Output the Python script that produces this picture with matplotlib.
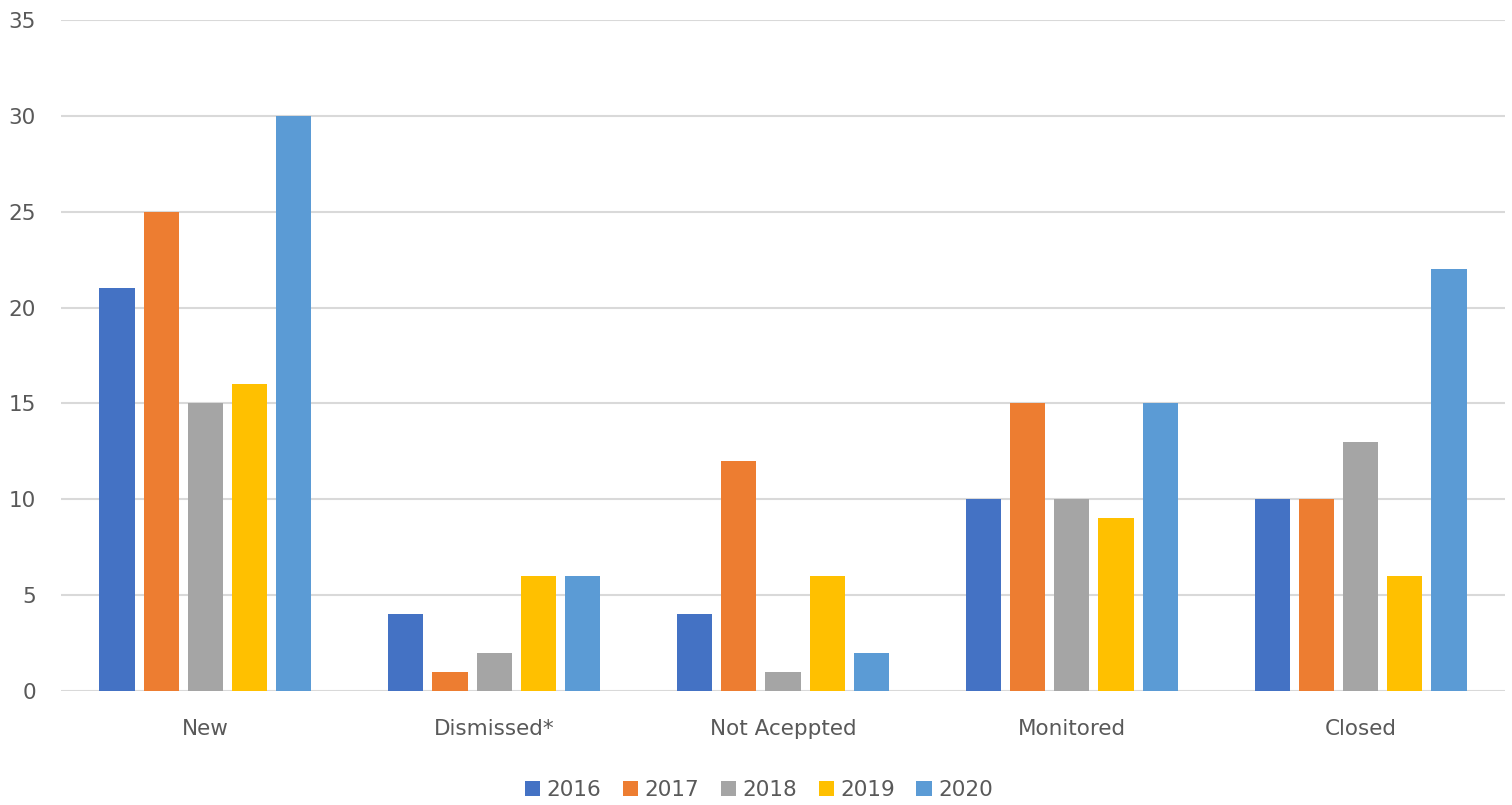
import matplotlib
matplotlib.use("Agg")
import matplotlib.pyplot as plt
import numpy as np

categories = ["New", "Dismissed*", "Not Aceppted", "Monitored", "Closed"]
years = ["2016", "2017", "2018", "2019", "2020"]
v2016 = [21, 4, 4, 10, 10]
v2017 = [25, 1, 12, 15, 10]
v2018 = [15, 2, 1, 10, 13]
v2019 = [16, 6, 6, 9, 6]
v2020 = [30, 6, 2, 15, 22]
series = [v2016, v2017, v2018, v2019, v2020]
colors = ["#4472C4", "#ED7D31", "#A5A5A5", "#FFC000", "#5B9BD5"]

plt.rcParams['font.family'] = ['DejaVu Sans']
fig = plt.figure(figsize=(15.12, 8.05), dpi=100)
ax = fig.add_axes([0.0403, 0.1416, 0.9551, 0.8334])

x = np.arange(len(categories))
step = 0.153
width = 0.122
for i, (vals, col, yr) in enumerate(zip(series, colors, years)):
    ax.bar(x + (i - 2) * step, vals, width, color=col, label=yr, zorder=3)

ax.set_xlim(-0.5, len(categories) - 0.5)
ax.set_ylim(0, 35)
ax.set_yticks(np.arange(0, 36, 5))
ax.yaxis.grid(True, color="#D9D9D9", linewidth=1.5, zorder=0)
ax.set_axisbelow(True)
for s in ax.spines.values():
    s.set_visible(False)
ax.tick_params(axis='both', length=0, colors="#595959", labelsize=15.5)
ax.tick_params(axis='y', pad=18)
ax.tick_params(axis='x', pad=20)
ax.set_xticks(x)
ax.set_xticklabels(categories)

leg = fig.legend(loc='center', bbox_to_anchor=(0.502, 0.019), ncol=5, frameon=False,
                 fontsize=15.5, handlelength=0.7, handleheight=0.7,
                 handletextpad=0.3, columnspacing=1.0)
for t in leg.get_texts():
    t.set_color("#595959")

fig.savefig("out.png", dpi=100, facecolor="white")
